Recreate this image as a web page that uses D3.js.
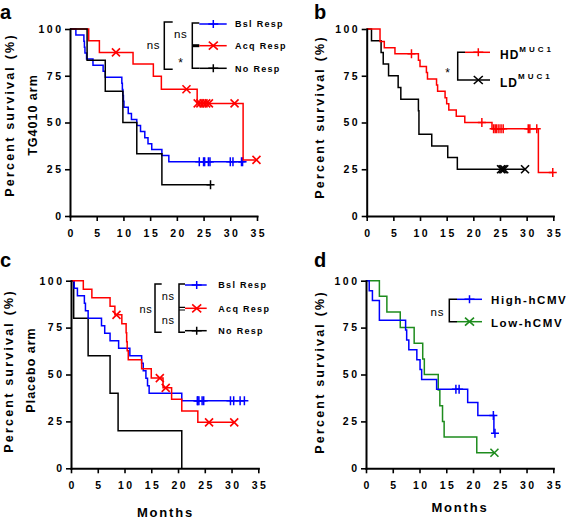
<!DOCTYPE html>
<html><head><meta charset="utf-8">
<script src="https://cdn.jsdelivr.net/npm/d3@7"></script>
<style>
body{margin:0;background:#fff}
svg{display:block}
text{font-family:Arial,"Liberation Sans",Helvetica,sans-serif;fill:#000}
</style>
</head><body>
<svg id="chart" width="567" height="518"></svg>
<script>
// ---------- shared ticks ----------
const monthTicks = [0,5,10,15,20,25,30,35];
const survivalTicks = [0,25,50,75,100];

// ---------- Panel a : TG4010 arm ----------
const aBslT = [1.1,2.6,2.7,2.8,3.1,4.3,6.2,6.6,9.7,9.8,9.9,10.0,10.1,10.9,11.5,12.5,13.2,14.0,14.6,15.3,17.2,18.5];
const aBslS = [96.8,93.5,90.3,87.1,83.9,80.6,77.4,74.2,71.0,67.7,64.5,61.3,58.1,54.8,51.6,48.4,45.2,41.9,38.7,35.5,32.3,29.0];
const aBslCens = [24.2,25.0,25.2,25.9,26.2,30.0,30.5,32.1,32.3];
const aAcqT = [3.5,5.5,11.8,15.6,17.1,23.8,32.4];
const aAcqS = [93.75,87.5,81.25,74.7,67.8,60.2,30.0];
const aAcqCens = [8.6,21.8,23.9,24.4,25.0,25.5,26.0,30.8,34.9];
const aNoT = [3.2,6.6,9.9,12.5,17.2];
const aNoS = [83.3,66.7,50.0,33.3,16.7];
const aNoCens = [26.3];

// ---------- Panel b : MUC1 ----------
const bHDT = [2.5,3.3,5.3,9.7,10.0,11.2,11.4,13.1,13.3,14.7,15.0,15.4,16.8,18.4,23.5,32.2];
const bHDS = [93.3,90.0,86.7,83.3,80.0,76.7,73.3,70.0,66.7,63.3,60.0,56.7,53.3,50.0,46.7,23.3];
const bHDCens = [8.4,21.6,23.8,24.1,24.4,24.8,25.2,25.6,30.3,30.6,31.9,34.9];
const bLDT = [0.9,2.7,3.1,4.1,5.9,6.4,9.7,9.8,12.2,15.2,17.0];
const bLDS = [93.75,87.5,81.25,75.0,68.75,62.5,56.25,43.75,37.5,31.25,25.0];
const bLDCens = [25.2,25.5,25.8,29.7];

// ---------- Panel c : Placebo arm ----------
const cBslT = [0.6,1.2,2.5,2.7,3.2,5.7,6.3,7.3,8.9,11.0,13.2,13.5,14.0,14.3,14.6,20.7];
const cBslS = [96,92,88,84,80,76,72,68,64,60,56,52,48,44,40,36];
const cBslCens = [23.6,23.7,23.9,24.5,24.8,29.8,30.4,31.6,32.4];
const cAcqT = [2.3,3.9,7.3,8.2,9.5,10.3,10.4,10.5,10.7,13.2,15.0,17.2,18.8,20.7,23.7];
const cAcqS = [95.5,90.9,86.4,81.8,77.0,72.2,67.4,62.6,57.8,53.0,48.1,42.9,36.8,30.6,24.5];
const cAcqCens = [8.5,16.6,17.7,25.8,30.5];
const cNoT = [0.5,3.2,7.3,8.8,20.7];
const cNoS = [80,60,40,20,0];
const cNoCens = [];

// ---------- Panel d : hCMV ----------
const dHighT = [0.6,1.2,2.5,7.4,7.6,8.0,9.5,10.1,10.4,13.2,19.0,20.9,23.9];
const dHighS = [94.7,89.5,78.9,73.7,68.4,63.2,57.9,52.6,47.4,42.1,35.1,28.1,18.7];
const dHighCens = [16.8,17.4,23.8,24.1];
const dLowT = [2.5,3.9,6.4,9.0,10.6,10.9,13.5,13.8,14.3,14.6,20.7];
const dLowS = [91.7,83.3,75.0,66.7,58.3,50.0,41.7,33.3,25.0,16.7,8.3];
const dLowCens = [24.0];

// ---------- colours ----------
const BLUE = "#0000ff", RED = "#ff0000", BLACK = "#000000", GREEN = "#1e8c1e";

const svg = d3.select("#chart");

function stepAt(T, S, t) {
  let s = 100;
  for (let i = 0; i < T.length; i++) if (T[i] <= t) s = S[i];
  return s;
}

function plusMark(g, cx, cy, w, h, color) {
  g.append("path")
    .attr("d", `M${cx - w/2},${cy}H${cx + w/2}M${cx},${cy - h/2}V${cy + h/2}`)
    .attr("stroke", color).attr("stroke-width", 1.5).attr("fill", "none");
}
function crossMark(g, cx, cy, w, h, color) {
  g.append("path")
    .attr("d", `M${cx - w/2},${cy - h/2}L${cx + w/2},${cy + h/2}M${cx + w/2},${cy - h/2}L${cx - w/2},${cy + h/2}`)
    .attr("stroke", color).attr("stroke-width", 1.6).attr("fill", "none");
}

function txt(g, x, y, s, opts = {}) {
  const t = g.append("text").attr("x", x).attr("y", y).text(s)
    .attr("font-size", opts.size || 10)
    .attr("font-weight", opts.weight || "bold")
    .attr("letter-spacing", opts.ls != null ? opts.ls : 0)
    .attr("text-anchor", opts.anchor || "start");
  if (opts.rotate) t.attr("transform", `rotate(-90 ${x} ${y})`);
  return t;
}

function makePanel(cfg) {
  const g = svg.append("g");
  const x = d3.scaleLinear().domain([0, 35]).range([cfg.x0, cfg.x1]);
  const y = d3.scaleLinear().domain([0, 100]).range([cfg.y0, cfg.y1]);

  // curves
  const line = d3.line().x(d => x(d[0])).y(d => y(d[1])).curve(d3.curveStepAfter);
  cfg.series.forEach(s => {
    const end = Math.max(s.T[s.T.length - 1], ...(s.cens.length ? s.cens : [0]));
    const pts = [[0, 100]];
    s.T.forEach((t, i) => pts.push([t, s.S[i]]));
    pts.push([end, s.S[s.S.length - 1]]);
    g.append("path").attr("d", line(pts)).attr("fill", "none")
      .attr("stroke", s.color).attr("stroke-width", 1.5);
    s.cens.forEach(t => {
      const cx = x(t), cy = y(stepAt(s.T, s.S, t));
      if (s.mark === "plus") plusMark(g, cx, cy, 8, 9, s.color);
      else crossMark(g, cx, cy, 8, 8, s.color);
    });
  });

  // axes
  const yAxis = d3.axisLeft(y).tickValues(survivalTicks).tickSize(5).tickSizeOuter(0).tickPadding(1.5);
  const xAxis = d3.axisBottom(x).tickValues(monthTicks).tickSize(5).tickSizeOuter(0).tickPadding(8.5);
  const gy = g.append("g").attr("transform", `translate(${cfg.x0},0)`).call(yAxis);
  const gx = g.append("g").attr("transform", `translate(0,${cfg.y0})`).call(xAxis);
  [gx, gy].forEach(a => {
    a.select(".domain").attr("stroke", "#000").attr("stroke-width", 2).attr("stroke-linecap", "square");
    a.selectAll(".tick line").attr("stroke", "#000").attr("stroke-width", 1.6);
    a.selectAll(".tick text").attr("font-size", 10.5).attr("font-weight", "bold")
      .attr("letter-spacing", 2.5).attr("fill", "#000")
      .attr("font-family", 'Arial,"Liberation Sans",sans-serif');
  });
  gx.selectAll(".tick text").attr("dx", 1.25);

  // panel letter
  txt(g, cfg.lx, cfg.ly, cfg.letter, { size: 20 });
  // y labels
  cfg.ylabels.forEach(l => txt(g, l.x, l.y, l.s, { size: 12.5, ls: l.ls, anchor: "middle", rotate: true }));
  if (cfg.xlabel) txt(g, cfg.xlabel.x, cfg.xlabel.y, "Months", { size: 13, ls: 1.8, anchor: "middle" });
  return g;
}

// ---------- Panel a ----------
const ga = makePanel({
  x0: 70, x1: 257, y0: 216, y1: 29, letter: "a", lx: 0, ly: 18.5,
  ylabels: [{ x: 13.5, y: 115, s: "Percent survival (%)", ls: 2.2 }, { x: 36.5, y: 115, s: "TG4010 arm", ls: 1 }],
  series: [
    { T: aBslT, S: aBslS, cens: aBslCens, color: BLUE, mark: "plus" },
    { T: aAcqT, S: aAcqS, cens: aAcqCens, color: RED, mark: "cross" },
    { T: aNoT, S: aNoS, cens: aNoCens, color: BLACK, mark: "plus" }
  ]
});
(function () {
  const g = ga, ys = [24, 45.7, 68.3];
  const cols = [BLUE, RED, BLACK], names = ["Bsl Resp", "Acq Resp", "No Resp"], marks = ["plus", "cross", "plus"];
  g.append("path").attr("d", `M172.7,${ys[0]-2}H164.3V${ys[2]+1}H172.7`).attr("fill", "none").attr("stroke", "#000").attr("stroke-width", 1.5);
  g.append("path").attr("d", `M199.3,${ys[0]-1}H192.3V${ys[2]}H199.3`).attr("fill", "none").attr("stroke", "#000").attr("stroke-width", 1.5);
  g.append("path").attr("d", `M192.3,${ys[1]}H199.3`).attr("stroke", "#000").attr("stroke-width", 3);
  txt(g, 153.5, 48.5, "ns", { size: 11.5, weight: "normal", ls: 0.8, anchor: "middle" });
  txt(g, 180.8, 37.8, "ns", { size: 11.5, weight: "normal", ls: 0.8, anchor: "middle" });
  txt(g, 180.5, 67, "*", { size: 12, weight: "normal", anchor: "middle" });
  ys.forEach((yy, i) => {
    g.append("path").attr("d", `M199.3,${yy}H226.7`).attr("stroke", cols[i]).attr("stroke-width", 1.5);
    if (marks[i] === "plus") plusMark(g, 213.3, yy, 10, 8, cols[i]); else crossMark(g, 213.3, yy, 9, 8, cols[i]);
    txt(g, 235, yy + 3.3, names[i], { size: 9, ls: 1.3 });
  });
})();

// ---------- Panel b ----------
const gb = makePanel({
  x0: 366.7, x1: 553.3, y0: 216, y1: 29, letter: "b", lx: 314, ly: 18.5,
  ylabels: [{ x: 324, y: 117, s: "Percent survival (%)", ls: 2.2 }],
  series: [
    { T: bLDT, S: bLDS, cens: bLDCens, color: BLACK, mark: "cross" },
    { T: bHDT, S: bHDS, cens: bHDCens, color: RED, mark: "plus" }
  ]
});
(function () {
  const g = gb, ys = [52.3, 80];
  g.append("path").attr("d", `M465,${ys[0]}H457.7V${ys[1]}H465`).attr("fill", "none").attr("stroke", "#000").attr("stroke-width", 1.5);
  txt(g, 447.5, 77, "*", { size: 12, weight: "normal", anchor: "middle" });
  g.append("path").attr("d", `M465,${ys[0]}H490`).attr("stroke", RED).attr("stroke-width", 1.5);
  plusMark(g, 478.3, ys[0], 10, 8, RED);
  g.append("path").attr("d", `M465,${ys[1]}H490`).attr("stroke", BLACK).attr("stroke-width", 1.5);
  crossMark(g, 478.3, ys[1], 9, 8, BLACK);
  [["HD", 59.3], ["LD", 86.7]].forEach(([s, yy]) => {
    const t = txt(g, 500, yy, s, { size: 12, ls: 1 });
    t.append("tspan").attr("dy", -7.5).attr("font-size", 8).attr("letter-spacing", 3).text("MUC1");
  });
})();

// ---------- Panel c ----------
const gc = makePanel({
  x0: 71, x1: 258.3, y0: 468.3, y1: 280.7, letter: "c", lx: 0, ly: 267,
  ylabels: [{ x: 12.5, y: 371, s: "Percent survival (%)", ls: 2.2 }, { x: 35, y: 370, s: "Placebo arm", ls: 1 }],
  xlabel: { x: 165.5, y: 516.5 },
  series: [
    { T: cNoT, S: cNoS, cens: cNoCens, color: BLACK, mark: "plus" },
    { T: cBslT, S: cBslS, cens: cBslCens, color: BLUE, mark: "plus" },
    { T: cAcqT, S: cAcqS, cens: cAcqCens, color: RED, mark: "cross" }
  ]
});
(function () {
  const g = gc, ys = [285, 308.3, 330.7];
  const cols = [BLUE, RED, BLACK], names = ["Bsl Resp", "Acq Resp", "No Resp"], marks = ["plus", "cross", "plus"];
  g.append("path").attr("d", `M161.7,284H155V332.3H161.7`).attr("fill", "none").attr("stroke", "#000").attr("stroke-width", 1.5);
  g.append("path").attr("d", `M185,284H179V332.3H185`).attr("fill", "none").attr("stroke", "#000").attr("stroke-width", 1.5);
  g.append("path").attr("d", `M179,307.4H185M179,310H185`).attr("stroke", "#000").attr("stroke-width", 1.2);
  txt(g, 146, 312.5, "ns", { size: 11, weight: "normal", ls: 0.8, anchor: "middle" });
  txt(g, 168.3, 299.8, "ns", { size: 11, weight: "normal", ls: 0.8, anchor: "middle" });
  txt(g, 168.3, 324.3, "ns", { size: 11, weight: "normal", ls: 0.8, anchor: "middle" });
  ys.forEach((yy, i) => {
    g.append("path").attr("d", `M185,${yy}H206.7`).attr("stroke", cols[i]).attr("stroke-width", 1.5);
    if (marks[i] === "plus") plusMark(g, 196.7, yy, 10, 8, cols[i]); else crossMark(g, 196.7, yy, 9, 8, cols[i]);
    txt(g, 218.3, yy + 3.3, names[i], { size: 9, ls: 1.3 });
  });
})();

// ---------- Panel d ----------
const gd = makePanel({
  x0: 366, x1: 553.3, y0: 468.3, y1: 280.7, letter: "d", lx: 314, ly: 267,
  ylabels: [{ x: 324, y: 372, s: "Percent survival (%)", ls: 2.2 }],
  xlabel: { x: 460, y: 511.5 },
  series: [
    { T: dLowT, S: dLowS, cens: dLowCens, color: GREEN, mark: "cross" },
    { T: dHighT, S: dHighS, cens: dHighCens, color: BLUE, mark: "plus" }
  ]
});
(function () {
  const g = gd, ys = [299.3, 321.7];
  g.append("path").attr("d", `M457,${ys[0]}H449.3V${ys[1]}H457`).attr("fill", "none").attr("stroke", "#000").attr("stroke-width", 1.5);
  txt(g, 437.5, 315.5, "ns", { size: 11.5, weight: "normal", ls: 1, anchor: "middle" });
  g.append("path").attr("d", `M457,${ys[0]}H482`).attr("stroke", BLUE).attr("stroke-width", 1.5);
  plusMark(g, 469.5, ys[0], 10, 8, BLUE);
  g.append("path").attr("d", `M457,${ys[1]}H482`).attr("stroke", GREEN).attr("stroke-width", 1.5);
  crossMark(g, 469.5, ys[1], 9, 8, GREEN);
  txt(g, 491, 304, "High-hCMV", { size: 11.5, ls: 1.6 });
  txt(g, 491, 326.5, "Low-hCMV", { size: 11.5, ls: 1.6 });
})();
</script>
</body></html>
